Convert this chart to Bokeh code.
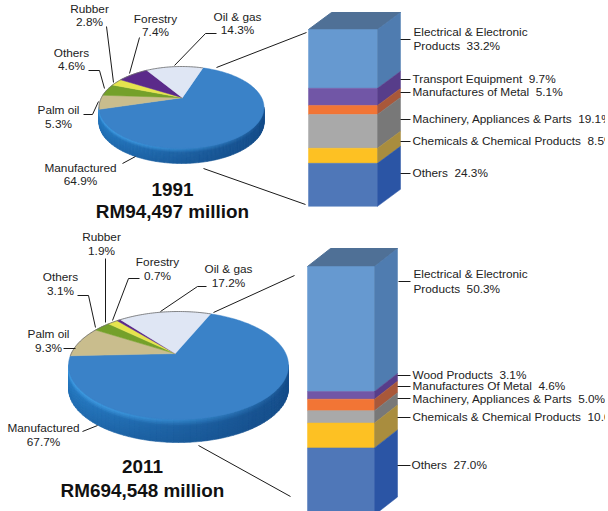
import math
from bokeh.plotting import figure
from bokeh.models import Range1d
from bokeh.core.properties import value
from bokeh.embed import file_html
from bokeh.resources import INLINE

# ---- data
pie_names = ["Manufactured", "Palm oil", "Others", "Rubber", "Forestry", "Oil & gas"]
pie_1991 = [64.9, 5.3, 4.6, 2.8, 7.4, 14.3]
pie_2011 = [67.7, 9.3, 3.1, 1.9, 0.7, 17.2]
stack_1991_names = ["Electrical & Electronic Products", "Transport Equipment", "Manufactures of Metal",
                    "Machinery, Appliances & Parts", "Chemicals & Chemical Products", "Others"]
stack_1991 = [33.2, 9.7, 5.1, 19.1, 8.5, 24.3]
stack_2011_names = ["Electrical & Electronic Products", "Wood Products", "Manufactures Of Metal",
                    "Machinery, Appliances & Parts", "Chemicals & Chemical Products", "Others"]
stack_2011 = [50.3, 3.1, 4.6, 5.0, 10.0, 27.0]
titles = [("1991", "RM94,497 million"), ("2011", "RM694,548 million")]

# ---- styles
pie_cols = ["#3a82c8", "#c9bd8d", "#74a02a", "#e6e44e", "#5b2a8a", "#dfe6f4"]
front_cols = ["#6699d0", "#7156a6", "#f27535", "#a9a9a9", "#fdc123", "#4f77b8"]
side_cols = ["#4f7cb0", "#573d8a", "#a9583a", "#787878", "#a98d3e", "#2b55a5"]
FONT = "Liberation Sans"
FS = "11.8px"

p = figure(width=605, height=511, x_range=Range1d(0, 605), y_range=Range1d(511, 0),
           x_axis_type=None, y_axis_type=None, toolbar_location=None, output_backend="svg",
           min_border=0, outline_line_color=None, background_fill_color="white", border_fill_color="white")
p.grid.visible = False


def mix(a, b, t):
    ca = [int(a[i:i + 2], 16) for i in (1, 3, 5)]
    cb = [int(b[i:i + 2], 16) for i in (1, 3, 5)]
    return "#%02x%02x%02x" % tuple(int(round(x + (y - x) * t)) for x, y in zip(ca, cb))


def rim_point(a, phi):
    """Where a ray from apex a=(ax,ay) (unit-disc space) at clockwise angle phi meets the rim."""
    dx, dy = math.sin(phi), math.cos(phi)
    b = a[0] * dx + a[1] * dy
    c = a[0] ** 2 + a[1] ** 2 - 1
    t = -b + math.sqrt(b * b - c)
    return a[0] + t * dx, a[1] + t * dy


def pie(vals, cx, cy, rx, ry, depth, ax, ay, start_deg):
    # side wall
    xs, ys, cs = [], [], []
    layers = 14
    segs = 60
    for k in range(layers):
        t0 = k / layers
        t1 = (k + 1.5) / layers
        for s in range(segs):
            a0 = math.pi * s / segs
            a1 = math.pi * (s + 1) / segs
            mid = (a0 + a1) / 2
            lr = (math.cos(mid) + 1) / 2
            col = mix("#2a82cc", "#174f8c", lr ** 0.8)
            col = mix(col, "#124a85", (1 - t0) * 0.35)
            if t0 > 0.7:
                col = mix(col, "#45a2e8", (t0 - 0.7) / 0.3 * (1 - lr) ** 0.7)
            y0 = cy + depth * (1 - t0)
            y1 = cy + depth * (1 - t1)
            xs.append([cx + rx * math.cos(a0), cx + rx * math.cos(a1), cx + rx * math.cos(a1), cx + rx * math.cos(a0)])
            ys.append([y0 + ry * math.sin(a0), y0 + ry * math.sin(a1), y1 + ry * math.sin(a1), y1 + ry * math.sin(a0)])
            cs.append(col)
    p.patches(xs, ys, fill_color=cs, line_color=cs, line_width=0.6)
    # top slices
    apex = (ax, ay)
    sx, sy = math.sin(math.radians(start_deg)), math.cos(math.radians(start_deg))
    phi0 = math.atan2(sx - ax, sy - ay)
    total = sum(vals)
    cum = 0.0
    rim_x, rim_y = [], []
    for j, (v, col) in enumerate(zip(vals, pie_cols)):
        a0 = phi0 + 2 * math.pi * cum / total
        a1 = phi0 + 2 * math.pi * (cum + v) / total
        n = max(3, int(abs(a1 - a0) * 40))
        px, py = [cx + rx * ax], [cy - ry * ay]
        for i in range(n + 1):
            ux, uy = rim_point(apex, a0 + (a1 - a0) * i / n)
            px.append(cx + rx * ux)
            py.append(cy - ry * uy)
        p.patch(px, py, fill_color=col, line_color=col, line_width=0.5)
        if j > 0:
            rim_x += px[1:]
            rim_y += py[1:]
        cum += v
    p.line(rim_x, rim_y, line_color="#6b6b6b", line_width=0.8)


def stack(vals, x0, x1, ytop, scale, dx, dy):
    y = ytop
    p.patch([x0, x0 + dx, x1 + dx, x1], [ytop, ytop - dy, ytop - dy, ytop], fill_color="#4f7096", line_color="#4f7096")
    for v, fc, sc in zip(vals, front_cols, side_cols):
        h = v * scale
        p.patch([x0, x1, x1, x0], [y, y, y + h, y + h], fill_color=fc, line_color=fc, line_width=0.5)
        p.patch([x1, x1 + dx, x1 + dx, x1], [y, y - dy, y + h - dy, y + h], fill_color=sc, line_color=sc, line_width=0.5)
        y += h


pie(pie_1991, 181, 107, 82.5, 41, 15, 0.01, 0.24, 15)
pie(pie_2011, 178, 365, 110, 54, 23, -0.03, 0.22, 17)
stack(stack_1991, 308, 377, 29, 1.77, 23, 17)
stack(stack_2011, 307, 374, 266, 2.485, 23, 18)

leaders = [
    [(106, 26), (113, 82)], [(139, 37), (129, 73)], [(216, 33), (205, 33), (174, 65)],
    [(88, 70), (99, 70), (104, 88)], [(83, 114), (92, 114), (98, 101)], [(122, 163), (135, 156)],
    [(216, 67), (306, 32)], [(203, 168), (305, 204)],
    [(400, 39), (410, 39)], [(400, 79), (410, 79)], [(400, 92), (410, 92)],
    [(400, 119), (410, 119)], [(400, 141), (410, 141)], [(400, 173), (410, 173)],
    [(105, 258), (105, 322)], [(139, 278), (128, 278), (112, 320)], [(206, 286), (197, 286), (160, 311)],
    [(77, 295), (88, 295), (95, 327)], [(63, 348), (75, 348)], [(82, 431), (97, 425)],
    [(213, 312), (294, 275)], [(198, 445), (290, 496)],
    [(398, 281), (410, 281)], [(397, 375), (410, 375)], [(397, 386), (410, 386)],
    [(397, 398), (410, 398)], [(397, 417), (410, 417)], [(397, 465), (410, 465)],
]
p.multi_line([[q[0] for q in l] for l in leaders], [[q[1] for q in l] for l in leaders],
             line_color="#1a1a1a", line_width=1)


def pct(v):
    return f"{v:.1f}%"


def labels(vals, places):
    for name, v, (x, y1, y2) in zip(pie_names, vals, places):
        p.text([x, x], [y1 - 1, y2 - 1], text=[name, pct(v)], text_font=value(FONT), text_font_size=FS,
               text_align="center", text_baseline="middle", text_color="#222222")


labels(pie_1991, [(80, 168, 181), (58, 110, 124), (71, 53, 66), (89, 9, 22), (155, 19, 32), (237, 17, 30)])
labels(pie_2011, [(43, 428, 442), (48, 334, 348), (60, 277, 291), (101, 237, 251), (157, 262, 276), (228, 269, 283)])


def right_labels(names, vals, places):
    first = names[0].split(" Products")[0]
    x, y = places[0]
    p.text([x], [y - 1], text=[first], text_font=value(FONT), text_font_size=FS,
           text_baseline="middle", text_color="#222222")
    for i, (nm, v) in enumerate(zip(names, vals)):
        nm2 = "Products" if i == 0 else nm
        x, y = places[i + 1]
        p.text([x], [y - 1], text=[f"{nm2}\u00a0\u00a0{pct(v)}"], text_font=value(FONT), text_font_size=FS,
               text_baseline="middle", text_color="#222222")


right_labels(stack_1991_names, stack_1991,
             [(413, 32), (413, 46), (412, 79), (412, 92), (412, 119), (412, 141), (412, 173)])
right_labels(stack_2011_names, stack_2011,
             [(413, 274), (413, 289), (412, 375), (412, 386), (412, 399), (412, 417), (411, 465)])

for (a, b), x, y1, y2 in zip(titles, (172, 142), (190, 467), (212, 491)):
    p.text([x, x], [y1 - 1, y2 - 1], text=[a, b], text_font=value(FONT), text_font_size="18.9px",
           text_font_style="bold", text_align="center", text_baseline="middle", text_color="#111111")

open("out.html", "w").write(file_html(p, INLINE))
